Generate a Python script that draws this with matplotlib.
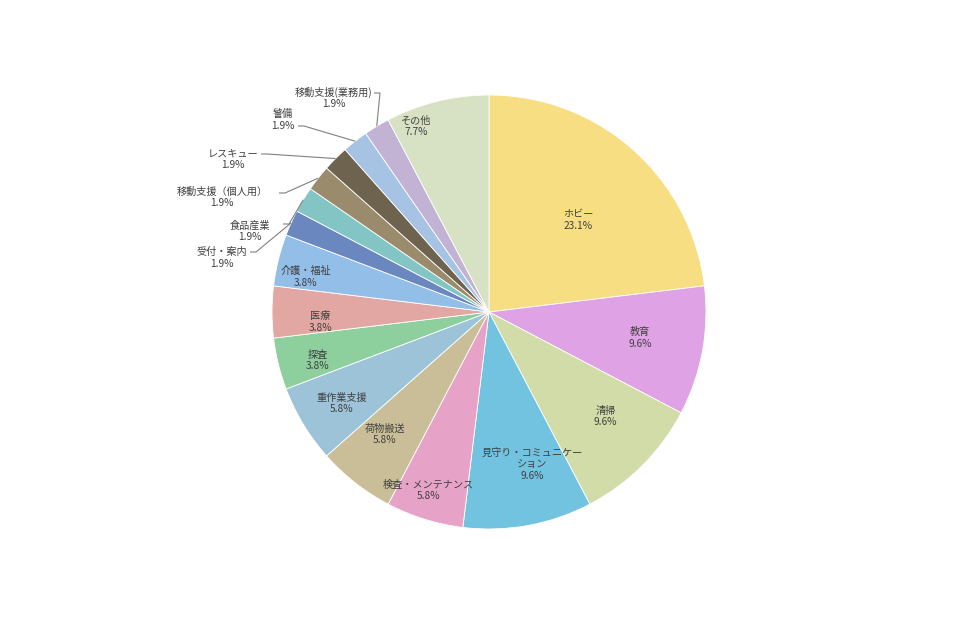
import numpy as np
import matplotlib as mpl
import matplotlib.pyplot as plt

mpl.use('agg')
plt.rcParams['font.family'] = ['Noto Sans CJK JP', 'DejaVu Sans']

# categories (clockwise from top) and counts (total 52)
labels = ['ホビー', '教育', '清掃', '見守り・コミュニケー\nション', '検査・メンテナンス',
          '荷物搬送', '重作業支援', '探査', '医療', '介護・福祉', '受付・案内', '食品産業',
          '移動支援（個人用）', 'レスキュー', '警備', '移動支援(業務用)', 'その他']
counts = [12, 5, 5, 5, 3, 3, 3, 2, 2, 2, 1, 1, 1, 1, 1, 1, 4]
percents = ['23.1%', '9.6%', '9.6%', '9.6%', '5.8%', '5.8%', '5.8%', '3.8%', '3.8%',
            '3.8%', '1.9%', '1.9%', '1.9%', '1.9%', '1.9%', '1.9%', '7.7%']
colors = ['#F8DE82', '#DFA2E5', '#D1DCA8', '#72C3E0', '#E7A2C8', '#C9BE97', '#9DC3D9',
          '#8DCF9D', '#E3A7A3', '#93BEE8', '#6A87BF', '#82C5C4', '#9B8B6D', '#6D634E',
          '#A6C3E3', '#C2B3D5', '#D7E2C4']

W, H = 960, 640
cx, cy, R = 489, H - 312, 217

fig = plt.figure(figsize=(9.6, 6.4), dpi=100)
ax = fig.add_axes([0, 0, 1, 1])

wedges, _ = ax.pie(counts, colors=colors, startangle=90, counterclock=False,
                   center=(cx, cy), radius=R,
                   wedgeprops=dict(edgecolor='white', linewidth=0.6))

# pie() resets the limits, so set the pixel frame afterwards
ax.set_xlim(0, W)
ax.set_ylim(0, H)
ax.set_aspect('equal')
ax.axis('off')

txt = dict(fontsize=7.3, color='#404040', ha='center', va='center', linespacing=1.15)

# inner labels: (radius fraction, angle offset in degrees)
inner = {0: (0.59, -2.5), 1: (0.705, 0.6), 2: (0.72, 3.1), 3: (0.73, 5.4),
         4: (0.87, -1.5), 5: (0.74, -2.4), 6: (0.80, 0.8), 7: (0.82, 1.9),
         8: (0.78, 3.4), 9: (0.86, 3.0), 16: (0.92, 7.6)}
for i, (f, dt) in inner.items():
    w = wedges[i]
    a = np.deg2rad((w.theta1 + w.theta2) / 2 + dt)
    ax.text(cx + f * R * np.cos(a), cy + f * R * np.sin(a),
            labels[i] + '\n' + percents[i], **txt)

# outer labels: text centre and leader start, in pixels from top-left
outer = {10: ((222, 258), (250, 252)), 11: ((250, 231), (283, 224)),
         12: ((222, 197), (279, 193)), 13: ((233, 159), (261, 154)),
         14: ((283, 120), (298, 126)), 15: ((334, 98), (374, 93))}
for i, ((tx, ty), (sx, sy)) in outer.items():
    w = wedges[i]
    a = np.deg2rad((w.theta1 + w.theta2) / 2)
    ex, ey = cx + R * np.cos(a), cy + R * np.sin(a)
    ax.text(tx, H - ty, labels[i] + '\n' + percents[i], **txt)
    ax.plot([sx, sx + 6, ex], [H - sy, H - sy, ey], color='#808080', lw=0.8,
            solid_capstyle='butt')

fig.savefig('out.png', dpi=100)
